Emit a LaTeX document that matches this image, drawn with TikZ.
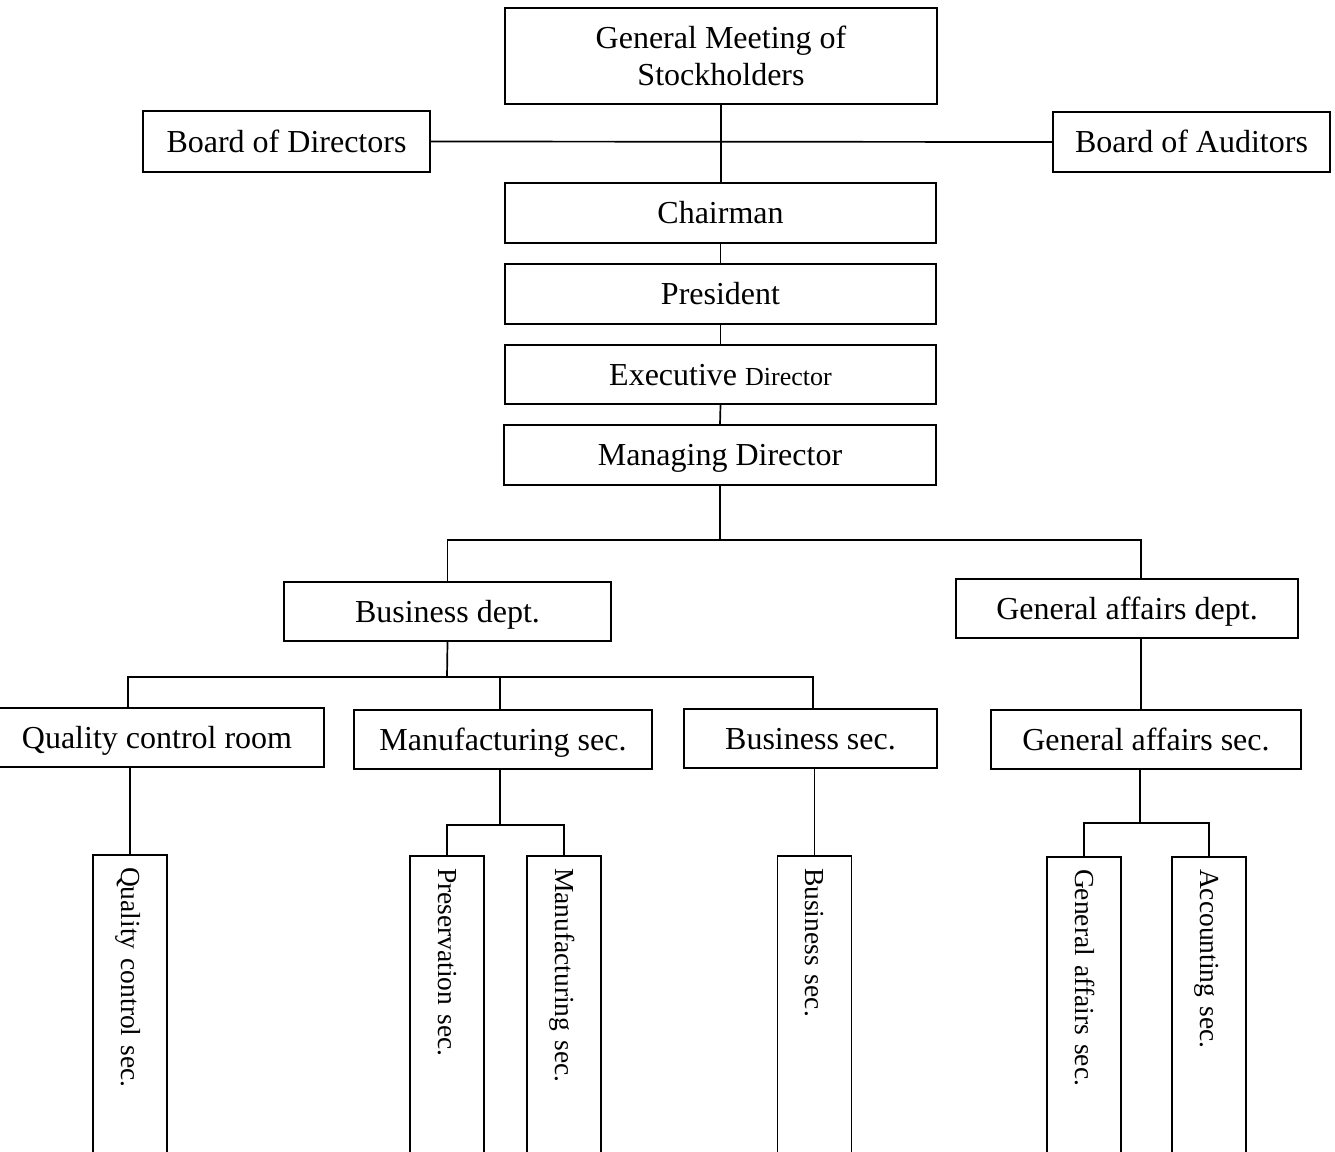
\documentclass[tikz,border=0pt]{standalone}
\usepackage{fontspec}
\setmainfont{Liberation Serif}
\begin{document}
\begin{tikzpicture}[x=1pt,y=-1pt,
  box/.style={draw, line width=1.9pt, rectangle, inner sep=0pt, align=center,
    font=\fontsize{32}{37}\selectfont, text height=21pt, text depth=0pt},
  vbox/.style={draw, line width=1.9pt, rectangle, rotate=-90,
    inner xsep=12pt, inner ysep=0pt, minimum width=340pt, minimum height=74pt,
    text width=316pt, align=left,
    font=\fontsize{27.5}{32}\selectfont, text height=18pt, text depth=0pt},
  link/.style={line width=1.7pt}]
\fill[white] (0,0) rectangle (1335,1151);
\useasboundingbox (0,0) rectangle (1335,1151);

% top of the organisation
\node[box, minimum width=432, minimum height=96, text height=58pt] (gm) at (721,56) {General Meeting of\\Stockholders};
\node[box, minimum width=287, minimum height=61] (bod) at (286.5,141.5) {Board of Directors};
\node[box, minimum width=277, minimum height=60] (boa) at (1191.5,142) {Board of Auditors};
\node[box, minimum width=431, minimum height=60] (ch) at (720.5,213) {Chairman};
\node[box, minimum width=431, minimum height=60] (pr) at (720.5,294) {President};
\node[box, minimum width=431, minimum height=59] (ed) at (720.5,374.5) {Executive {\fontsize{26}{30}\selectfont Director}};
\node[box, minimum width=432, minimum height=60] (md) at (720,455) {Managing Director};

% departments
\node[box, minimum width=327, minimum height=59] (bd) at (447.5,611.5) {Business dept.};
\node[box, minimum width=342, minimum height=59] (gad) at (1127,608.5) {General affairs dept.};

% sections
\node[box, minimum width=334, minimum height=59] (qcr) at (157,737.5) {Quality control room};
\node[box, minimum width=298, minimum height=59] (mfs) at (503,739.5) {Manufacturing sec.};
\node[box, minimum width=253, minimum height=59] (bs) at (810.5,738.5) {Business sec.};
\node[box, minimum width=310, minimum height=59] (gas) at (1146,739.5) {General affairs sec.};

% sub-sections (vertical labels)
\node[vbox] (qcs) at (130,1025) {Quality control sec.};
\node[vbox] (ps) at (447,1026) {Preservation sec.};
\node[vbox] (ms) at (564,1026) {Manufacturing sec.};
\node[vbox] (bss) at (814.5,1026) {Business sec.};
\node[vbox] (gs) at (1084,1027) {General affairs sec.};
\node[vbox] (as) at (1209,1027) {Accounting sec.};

% junctions
\coordinate (j1) at (720,540);
\coordinate (j2) at (447,677);
\coordinate (j3) at (500,825);
\coordinate (j4) at (1140,823);

% connectors
\draw[link] (bod.east) -- (boa.west);
\draw[link] (gm.south) -- (gm.south |- ch.north);
\draw[link] (ch.south) -- (pr.north);
\draw[link] (pr.south) -- (ed.north);
\draw[link] (ed.south) -- (md.north);
\draw[link] (md.south) -- (j1);
\draw[link] (bd.north) |- (j1) -| ([xshift=14pt]gad.north);
\draw[link] ([xshift=14pt]gad.south) -- ([xshift=14pt]gad.south |- gas.north);
\draw[link] (bd.south) -- (j2);
\draw[link] ([xshift=-29pt]qcr.north) |- (j2) -| ([xshift=2.5pt]bs.north);
\draw[link] ([xshift=-3pt]mfs.north) -- ([xshift=-3pt]mfs.north |- j2);
\draw[link] (qcs.west |- qcr.south) -- (qcs.west);
\draw[link] (j3 |- mfs.south) -- (j3);
\draw[link] (ps.west) |- (j3) -| (ms.west);
\draw[link] (bss.west |- bs.south) -- (bss.west);
\draw[link] (j4 |- gas.south) -- (j4);
\draw[link] (gs.west) |- (j4) -| (as.west);
\end{tikzpicture}
\end{document}
